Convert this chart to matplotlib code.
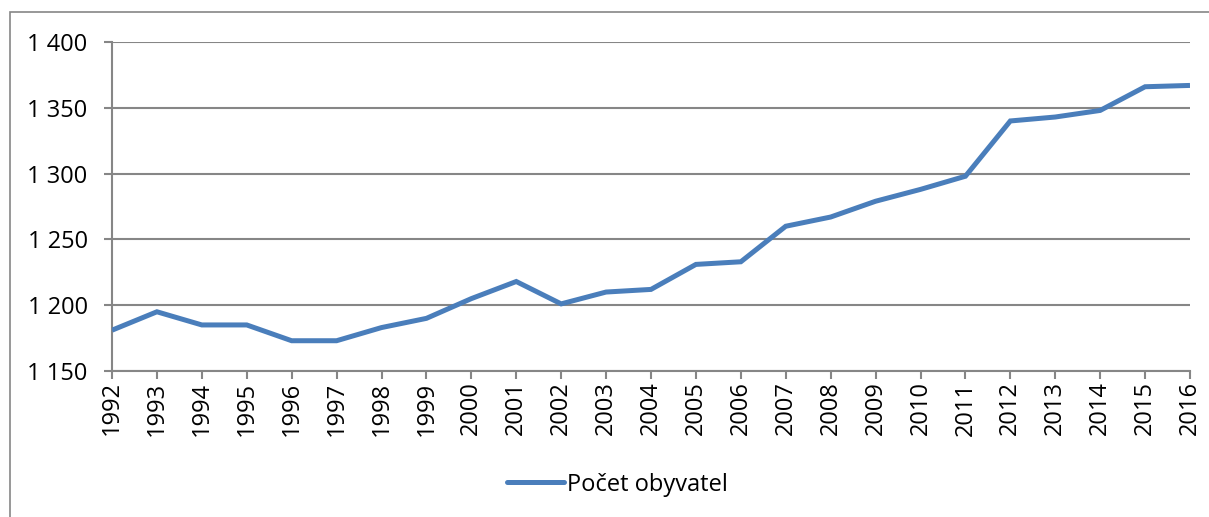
import matplotlib
matplotlib.use('Agg')
import matplotlib.pyplot as plt
from matplotlib.patches import Rectangle
from matplotlib.ticker import FuncFormatter, FixedLocator

plt.rcParams['font.family'] = ['Open Sans', 'DejaVu Sans']

years = list(range(1992, 2017))
population = [1181, 1195, 1185, 1185, 1173, 1173, 1183, 1190, 1205, 1218,
              1201, 1210, 1212, 1231, 1233, 1260, 1267, 1279, 1288, 1298,
              1340, 1343, 1348, 1366, 1367]
series_name = 'Počet obyvatel'
y_ticks = [1150, 1200, 1250, 1300, 1350, 1400]

W, H = 1209, 517
fig = plt.figure(figsize=(W / 100, H / 100), dpi=100)
GRID = '#868686'
LINE = '#4a7ebb'

# outer chart frame (only left/top visible in the crop)
fig.patches.append(Rectangle((10 / W, -0.1), 1.2, (H - 12) / H + 0.1,
                             transform=fig.transFigure, fill=False,
                             edgecolor=GRID, lw=1.2))

ax = fig.add_axes([112 / W, 1 - 371 / H, (1190 - 112) / W, (371 - 42) / H])
ax.plot(years, population, color=LINE, lw=3.6, solid_joinstyle='miter',
        solid_capstyle='butt', label=series_name, zorder=3)

ax.set_xlim(1992, 2016)
ax.set_ylim(1150, 1400)
ax.yaxis.set_major_locator(FixedLocator(y_ticks))
ax.yaxis.set_major_formatter(FuncFormatter(lambda v, p: f'{int(v):,}'.replace(',', ' ')))
ax.set_xticks(years)
ax.set_xticklabels([str(y) for y in years], rotation=90)

ax.grid(axis='y', color=GRID, lw=1.5)
ax.set_axisbelow(True)
for s in ['top', 'right']:
    ax.spines[s].set_visible(False)
for s in ['left', 'bottom']:
    ax.spines[s].set_color(GRID)
    ax.spines[s].set_linewidth(1.5)
ax.tick_params(axis='both', direction='out', length=5.5, width=1.5, color=GRID,
               labelsize=17, labelcolor='black')
ax.tick_params(axis='y', pad=12)
ax.tick_params(axis='x', pad=2)

leg = ax.legend(loc='center', bbox_to_anchor=(0.469, -0.345), frameon=False,
                fontsize=17, handlelength=2.4, handletextpad=0.15)
leg.get_lines()[0].set_solid_capstyle('round')

fig.savefig('out.png', dpi=100)
